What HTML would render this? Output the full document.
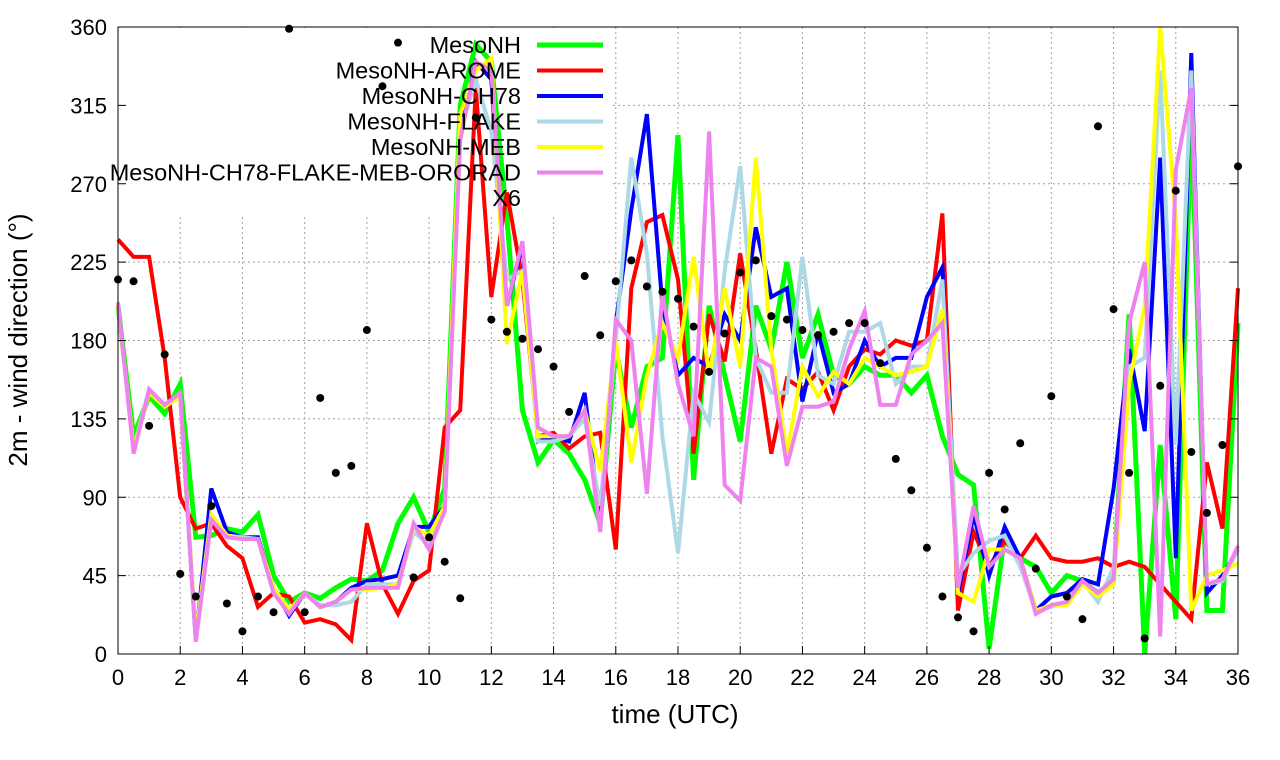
<!DOCTYPE html>
<html><head><meta charset="utf-8"><style>
body{margin:0;background:#fff;}
svg{display:block;font-family:"Liberation Sans",sans-serif;}
</style></head><body>
<svg id="chart" width="1280" height="760" xmlns="http://www.w3.org/2000/svg">
<g id="grid"></g>
<rect x="100" y="28" width="512" height="187" fill="#fff"/>
<g id="series"></g>
<g id="axes"></g>
<g id="legend"></g>
<text x="675" y="723" font-size="26" text-anchor="middle">time (UTC)</text>
<text transform="translate(27,340) rotate(-90)" font-size="26" text-anchor="middle">2m - wind direction (°)</text>
</svg>
<script>
const xTicks=[0,2,4,6,8,10,12,14,16,18,20,22,24,26,28,30,32,34,36];
const yTicks=[0,45,90,135,180,225,270,315,360];
const seriesNames=["MesoNH","MesoNH-AROME","MesoNH-CH78","MesoNH-FLAKE","MesoNH-MEB","MesoNH-CH78-FLAKE-MEB-ORORAD"];
const mesonh=[200,125,148,138,155,67,68,72,70,80,45,30,35,32,38,43,42,48,75,90,70,95,315,350,340,250,140,110,123,115,100,75,175,130,165,170,298,100,200,160,122,200,175,225,170,195,160,155,165,160,160,150,160,125,103,97,3,68,55,50,35,45,42,35,42,195,0,120,20,310,25,25,190];
const arome=[238,228,228,170,90,72,75,62,55,27,35,33,18,20,17,8,75,40,23,42,48,130,140,325,205,265,215,125,127,118,125,127,60,210,248,252,215,115,195,168,230,175,115,158,152,162,140,165,175,172,180,177,180,253,25,70,50,65,55,68,55,53,53,55,50,53,50,40,30,20,110,72,210];
const ch78=[200,118,150,142,148,8,95,70,67,67,38,22,35,27,30,38,42,43,45,73,73,85,300,340,330,200,235,122,125,122,150,75,190,255,310,200,160,170,165,195,180,245,205,210,145,185,150,155,180,165,170,170,205,222,35,80,45,73,55,25,33,35,43,40,95,175,128,285,55,345,35,45,60];
const flake=[200,118,152,142,148,10,80,68,67,66,35,25,35,28,28,30,40,40,40,70,63,82,300,330,300,215,220,122,122,125,135,85,180,285,230,125,58,150,133,220,280,170,150,150,228,160,155,185,185,190,155,165,165,215,45,58,65,68,50,25,27,30,42,30,50,165,170,335,120,335,40,42,60];
const meb=[200,118,150,142,148,10,80,68,66,66,38,25,35,27,30,37,37,38,40,73,68,85,310,335,342,178,220,125,125,125,140,105,180,110,160,190,170,228,160,210,165,285,175,115,165,148,162,155,170,165,160,162,165,198,35,30,60,60,55,25,28,28,40,33,40,155,200,360,250,25,45,48,52];
const ororad=[202,115,152,143,150,7,77,67,66,66,35,23,35,27,30,37,38,38,38,75,60,82,295,340,335,200,237,130,125,125,140,70,192,180,92,207,155,125,300,97,88,170,165,108,142,142,145,175,197,143,143,172,180,190,38,85,50,60,55,23,28,30,42,35,43,190,225,10,278,325,40,43,62];
const x6=[215,214,131,172,46,33,85,29,13,33,24,359,24,147,104,108,186,326,351,44,67,53,32,308,192,185,181,175,165,139,217,183,214,226,211,208,204,188,162,184,219,226,194,192,186,183,185,190,190,167,112,94,61,33,21,13,104,83,121,49,148,33,20,303,198,104,9,154,266,116,81,120,280];
const seriesData=[mesonh,arome,ch78,flake,meb,ororad];
const colors=["#00ff00","#ff0000","#0000ff","#add8e6","#ffff00","#ee82ee"];
const widths=[5,4,4,4,4,4];
const X0=118,X1=1238,Y0=654,Y1=27;
const xs=t=>X0+(t/36)*(X1-X0);
const ys=v=>Y0-(v/360)*(Y0-Y1);
const NS="http://www.w3.org/2000/svg";
function mk(tag,attrs,parent){const e=document.createElementNS(NS,tag);for(const k in attrs)e.setAttribute(k,attrs[k]);parent.appendChild(e);return e;}
const grid=document.getElementById('grid'),axes=document.getElementById('axes'),ser=document.getElementById('series'),leg=document.getElementById('legend');
xTicks.forEach(t=>{
 if(t>0&&t<36){const l=mk('line',{x1:xs(t),x2:xs(t),y1:Y0,y2:Y1,stroke:'#a0a0a0','stroke-width':1,'stroke-dasharray':'2,3'},grid);
 
 }
 const tk=mk('line',{x1:xs(t),x2:xs(t),y1:Y0,y2:Y0-8,stroke:'#000'},axes);
 
 
 const tx=mk('text',{x:xs(t),y:Y0+31,'font-size':22,'text-anchor':'middle'},axes);tx.textContent=t;
 
 
});
yTicks.forEach(v=>{
 if(v>0&&v<360){const l=mk('line',{x1:X0,x2:X1,y1:ys(v),y2:ys(v),stroke:'#a0a0a0','stroke-width':1,'stroke-dasharray':'2,3'},grid);
 
 }
 const tk=mk('line',{x1:X0,x2:X0+8,y1:ys(v),y2:ys(v),stroke:'#000'},axes);
 
 
 const tk2=mk('line',{x1:X1,x2:X1-8,y1:ys(v),y2:ys(v),stroke:'#000'},axes);
 
 
 const tx=mk('text',{x:X0-11,y:ys(v)+8,'font-size':22,'text-anchor':'end'},axes);tx.textContent=v;
 
 
});
const box=mk('rect',{x:X0,y:Y1,width:X1-X0,height:Y0-Y1,fill:'none',stroke:'#000','stroke-width':1},axes);


seriesData.forEach((d,i)=>{
 const pts=d.map((v,j)=>xs(j*0.5).toFixed(1)+','+ys(v).toFixed(1)).join(' ');
 const p=mk('polyline',{points:pts,fill:'none',stroke:colors[i],'stroke-width':widths[i],'stroke-linejoin':'miter'},ser);
 
 
});
x6.forEach((v,j)=>{
 const c=mk('circle',{cx:xs(j*0.5),cy:ys(v),r:4,fill:'#000'},ser);
 
 
});
const legNames=seriesNames.concat(["X6"]);
legNames.forEach((n,i)=>{
 const y=45+i*25.5;
 const t=mk('text',{x:521,y:y+8,'font-size':23.5,'text-anchor':'end'},leg);t.textContent=n;
 
 
 if(i<6){const l=mk('line',{x1:537,x2:603,y1:y,y2:y,stroke:colors[i],'stroke-width':widths[i]},leg);
 
 }
});
</script>
</body></html>
